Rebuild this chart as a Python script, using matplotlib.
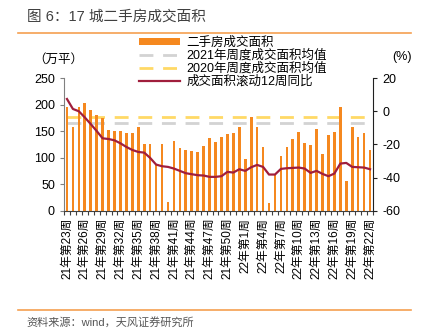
import numpy as np
import matplotlib
matplotlib.use("Agg")
import matplotlib.pyplot as plt
from matplotlib.lines import Line2D
from matplotlib.patches import Patch

plt.rcParams['font.family'] = ['Liberation Sans', 'Noto Sans CJK SC']
plt.rcParams['axes.unicode_minus'] = False

# ---------------------------------------------------------------
# data
# ---------------------------------------------------------------
weeks = [f"21年第{w}周" for w in range(23, 53)] + [f"22年第{w}周" for w in range(1, 23)]

area = [195, 157, 195, 204, 189, 180, 175, 153, 150, 150,
        147, 147, 158, 126, 125, 86, 126, 16, 132, 118,
        115, 112, 111, 123, 137, 130, 139, 145, 146, 157,
        97, 176, 158, 121, 15, 68, 103, 120, 136, 148,
        128, 124, 154, 107, 143, 149, 196, 56, 158, 140,
        147, 115]

yoy_12w = [7.4, 1.4, 0.0, -3.7, -7.7, -11.9, -16.3, -16.7, -17.5, -19.3,
           -21.5, -23.3, -24.5, -24.9, -28.1, -32.1, -33.1, -33.5, -34.5, -35.9,
           -37.3, -37.9, -38.5, -38.7, -39.5, -39.5, -39.1, -36.5, -36.9, -34.9,
           -35.9, -33.7, -32.3, -33.5, -38.1, -38.1, -34.7, -34.3, -34.1, -33.9,
           -34.5, -37.1, -35.9, -37.7, -39.1, -37.5, -31.5, -31.1, -33.5, -33.7,
           -33.9, -34.9]

avg_2021 = 165
avg_2020 = 177

# ---------------------------------------------------------------
# plot
# ---------------------------------------------------------------
bar_color = "#F5881F"
line_color = "#A01E3C"
gray_color = "#D3D3D3"
yellow_color = "#FFD966"

fig = plt.figure(figsize=(4.21, 3.28), dpi=100)
ax = fig.add_axes([0.152, 0.357, 0.734, 0.405])
ax2 = ax.twinx()

x = np.arange(len(weeks))
ax.plot(x, [avg_2021] * len(x), color=gray_color, lw=2, dashes=(5, 3.5), zorder=1)
ax.plot(x, [avg_2020] * len(x), color=yellow_color, lw=2, dashes=(5, 3.5), zorder=1)
ax.bar(x, area, width=0.45, color=bar_color, zorder=2)
ax2.plot(x, yoy_12w, color=line_color, lw=1.6, zorder=3)

ax.set_xlim(-0.5, len(weeks) - 0.5)
ax.set_ylim(0, 250)
ax.set_yticks(range(0, 251, 50))
ax2.set_ylim(-60, 20)
ax2.set_yticks(range(-60, 21, 20))

# tick marks between categories, labels every 3rd week
ax.set_xticks(np.arange(-0.5, len(weeks), 1))
ax.set_xticklabels([])
ax.set_xticks(x[::3], minor=True)
ax.set_xticklabels(weeks[::3], minor=True, rotation=90, fontsize=8.5)
ax.tick_params(axis='x', which='major', length=3, width=0.8, color='#404040')
ax.tick_params(axis='x', which='minor', length=0, pad=5)

ax.tick_params(axis='y', labelsize=9, length=3, width=0.8, color='#808080')
ax2.tick_params(axis='y', labelsize=9, length=3, width=0.8, color='#202020')

for a in (ax, ax2):
    a.spines['top'].set_visible(False)
ax.spines['left'].set_color('#808080')
ax.spines['right'].set_visible(False)
ax2.spines['left'].set_visible(False)
ax2.spines['right'].set_color('#202020')
ax2.spines['bottom'].set_visible(False)
ax.spines['bottom'].set_color('#404040')

fig.text(0.078, 0.818, "（万平）", fontsize=9, ha='left', va='center')
fig.text(0.955, 0.826, "(%)", fontsize=9, ha='center', va='center')

handles = [
    Patch(facecolor=bar_color, edgecolor='none'),
    Line2D([], [], color=gray_color, lw=2, dashes=(5, 3.5)),
    Line2D([], [], color=yellow_color, lw=2, dashes=(5, 3.5)),
    Line2D([], [], color=line_color, lw=1.6),
]
labels = ["二手房成交面积", "2021年周度成交面积均值", "2020年周度成交面积均值", "成交面积滚动12周同比"]
leg = fig.legend(handles, labels, loc='upper left', bbox_to_anchor=(0.315, 0.908),
                 frameon=False, fontsize=9, handlelength=3.3, handleheight=0.45,
                 handletextpad=0.5, labelspacing=0.05, borderpad=0)

# header / footer
fig.text(0.064, 0.950, "图 6：17 城二手房成交面积", fontsize=10.5, color='#404040',
         ha='left', va='center', fontweight='medium')
fig.add_artist(Line2D([0.043, 0.976], [0.899, 0.899], color='#F5A050', lw=1.2))
fig.add_artist(Line2D([0.043, 0.976], [0.055, 0.055], color='#F5A050', lw=1.2))
fig.text(0.064, 0.018, "资料来源：wind，天风证券研究所", fontsize=8, color='#555555',
         ha='left', va='center')

fig.savefig("out.png", dpi=100)
